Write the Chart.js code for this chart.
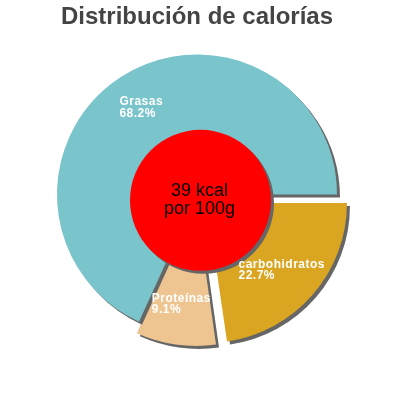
<!DOCTYPE html>
<html>
<head>
<meta charset="utf-8">
<script src="https://cdn.jsdelivr.net/npm/chart.js@4/dist/chart.umd.min.js"></script>
<style>
  html, body { margin: 0; padding: 0; background: #fff; }
  #wrap { width: 400px; height: 400px; }
</style>
</head>
<body>
<div id="wrap"><canvas id="chartCanvas" width="400" height="400"></canvas></div>
<script>
// chart data (clockwise from 3 o'clock)
const titleText = "Distribución de calorías";
const categories = ["carbohidratos", "Proteínas", "Grasas"];
const percentages = [22.7, 9.1, 68.2];
const centerLines = ["39 kcal", "por 100g"];

// styles
const sliceColors = ["#DAA520", "#EEC591", "#7AC4CC"];
const sliceOffsets = [52, 32, 0];
const shadowColor = "#666666";

function setShadow(ctx) {
    ctx.shadowColor = shadowColor;
    ctx.shadowOffsetX = 3;
    ctx.shadowOffsetY = 3;
    ctx.shadowBlur = 0;
}

const piePlugin = {
    id: "pieDecor",
    beforeDatasetsDraw(chart) {
        chart.ctx.save();
        setShadow(chart.ctx);
    },
    afterDatasetsDraw(chart) {
        const ctx = chart.ctx;
        ctx.restore();

        // red centre disc
        const cx = chart.width / 2 + 0.5;
        const cy = chart.height / 2 + 0.3;
        ctx.save();
        setShadow(ctx);
        ctx.beginPath();
        ctx.arc(cx, cy, 70.5, 0, Math.PI * 2);
        ctx.fillStyle = "#FF0000";
        ctx.fill();
        ctx.restore();

        ctx.save();
        ctx.fillStyle = "#000";
        ctx.font = "18px 'Liberation Sans', Arial, sans-serif";
        ctx.textAlign = "center";
        ctx.textBaseline = "alphabetic";
        ctx.fillText(centerLines[0], cx - 1, cy - 4.5);
        ctx.fillText(centerLines[1], cx - 1, cy + 13.2);
        ctx.restore();

        // slice labels
        const meta = chart.getDatasetMeta(0);
        ctx.save();
        ctx.fillStyle = "#FFFFFF";
        ctx.font = "bold 12px 'Liberation Sans', Arial, sans-serif";
        ctx.letterSpacing = "0.5px";
        ctx.textAlign = "left";
        ctx.textBaseline = "middle";
        meta.data.forEach((arc, i) => {
            const p = arc.getProps(["x", "y", "startAngle", "endAngle"], true);
            const mid = (p.startAngle + p.endAngle) / 2;
            const shift = sliceOffsets[i] / 4;
            const ax = p.x + Math.cos(mid) * (shift + 103) - (i === 0 ? 3 : 0);
            const ay = p.y + Math.sin(mid) * (shift + 103);
            const lines = [categories[i], percentages[i].toFixed(1) + "%"];
            const w = Math.max(...lines.map(t => ctx.measureText(t).width));
            const lh = 11.7;
            lines.forEach((t, k) => {
                ctx.fillText(t, ax - w / 2, ay + (k - 0.5) * lh);
            });
        });
        ctx.restore();
    }
};

new Chart(document.getElementById("chartCanvas"), {
    type: "pie",
    data: {
        labels: categories,
        datasets: [{
            data: percentages,
            backgroundColor: sliceColors,
            offset: sliceOffsets,
            borderWidth: 0,
            hoverOffset: 0,
            clip: false
        }]
    },
    options: {
        responsive: false,
        animation: false,
        events: [],
        rotation: 90,
        radius: 140,
        layout: { padding: { top: 0, left: 0, right: 6, bottom: 43 } },
        plugins: {
            legend: { display: false },
            tooltip: { enabled: false },
            title: {
                display: true,
                text: titleText,
                color: "#444444",
                font: { size: 24, weight: "bold", family: "'Liberation Sans', Arial, sans-serif" },
                padding: { top: 3, bottom: 0 }
            }
        }
    },
    plugins: [piePlugin]
});
</script>
</body>
</html>
